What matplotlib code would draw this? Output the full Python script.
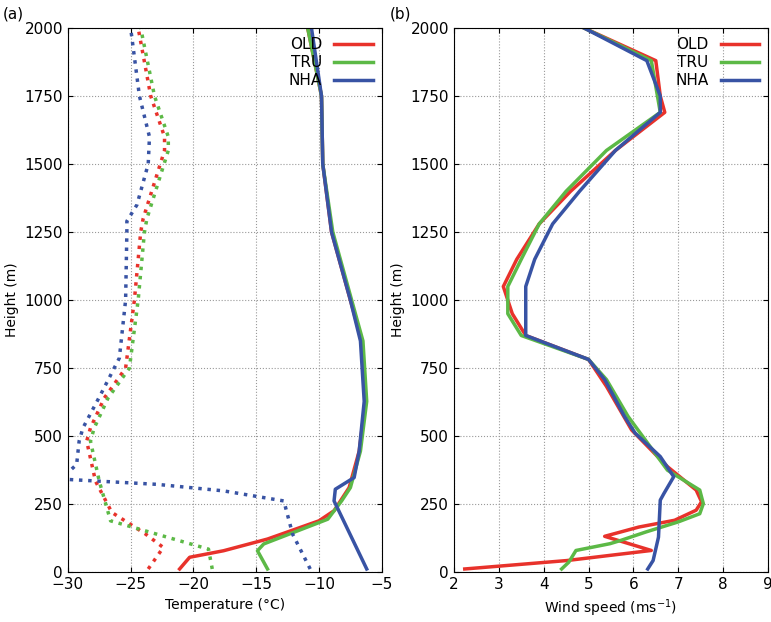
import matplotlib.pyplot as plt

# Temperature profiles (solid)
h_old_t = [12, 55, 79, 122, 189, 226, 311, 445, 628, 850, 1000, 1250, 1500, 1750, 2000]
t_old = [-21.1, -20.3, -17.6, -14.1, -10.0, -8.8, -7.6, -6.8, -6.3, -6.6, -7.5, -9.0, -9.7, -9.8, -10.9]
h_tru_t = [12, 79, 104, 195, 262, 311, 445, 628, 850, 1000, 1250, 1500, 1750, 2000]
t_tru = [-14.1, -14.9, -14.4, -9.3, -8.2, -7.5, -6.7, -6.2, -6.5, -7.4, -8.9, -9.7, -9.8, -10.9]
h_nha_t = [12, 262, 305, 348, 445, 628, 850, 1000, 1250, 1500, 1750, 2000]
t_nha = [-6.2, -8.8, -8.7, -7.2, -6.8, -6.4, -6.7, -7.5, -9.0, -9.7, -9.8, -10.6]

# dotted profiles
h_old_d = [12, 91, 140, 220, 335, 482, 530, 640, 750, 1000, 1250, 1300, 1550, 1600, 1750, 2000]
d_old = [-23.6, -22.4, -23.8, -26.5, -27.8, -28.5, -28.2, -27.1, -25.4, -24.7, -24.2, -24.0, -22.3, -22.3, -23.4, -24.4]
h_tru_d = [12, 85, 189, 335, 482, 530, 640, 750, 1000, 1250, 1300, 1550, 1600, 1750, 2000]
d_tru = [-18.5, -18.8, -26.6, -27.5, -28.2, -27.9, -26.8, -25.1, -24.4, -23.9, -23.7, -22.0, -22.0, -23.1, -24.2]
h_nha_d = [12, 140, 262, 299, 323, 341, 352, 366, 396, 482, 530, 652, 787, 1000, 1250, 1290, 1350, 1500, 1600, 1750, 2000]
d_nha = [-10.7, -12.1, -12.8, -17.6, -22.9, -30.0, -31.0, -30.0, -29.3, -29.1, -28.8, -27.4, -25.9, -25.4, -25.3, -25.3, -24.5, -23.6, -23.5, -24.3, -25.0]

# wind speed
h_old_w = [12, 43, 62, 80, 132, 166, 191, 228, 259, 302, 388, 523, 683, 782, 870, 950, 1050, 1150, 1280, 1400, 1550, 1690, 1750, 1880, 2000]
w_old = [2.24, 4.52, 5.48, 6.40, 5.36, 6.12, 6.92, 7.40, 7.52, 7.40, 6.76, 5.96, 5.40, 5.0, 3.6, 3.3, 3.1, 3.4, 3.9, 4.6, 5.6, 6.7, 6.6, 6.5, 4.9]
h_tru_w = [12, 37, 80, 105, 117, 148, 185, 215, 252, 302, 375, 573, 708, 782, 870, 950, 1050, 1150, 1280, 1400, 1550, 1690, 1880, 2000]
w_tru = [4.40, 4.56, 4.72, 5.48, 5.72, 6.28, 7.0, 7.48, 7.56, 7.48, 6.76, 5.88, 5.4, 5.0, 3.5, 3.2, 3.2, 3.5, 3.9, 4.5, 5.4, 6.6, 6.4, 4.9]
h_nha_w = [12, 43, 129, 265, 289, 351, 425, 511, 573, 647, 708, 782, 870, 950, 1050, 1150, 1280, 1400, 1550, 1690, 1750, 1880, 2000]
w_nha = [6.32, 6.44, 6.56, 6.6, 6.68, 6.9, 6.6, 6.04, 5.8, 5.56, 5.36, 5.0, 3.6, 3.6, 3.6, 3.8, 4.2, 4.8, 5.6, 6.6, 6.6, 6.3, 4.9]

red = '#e8322b'
green = '#5cb946'
blue = '#3853a4'

fig, (ax1, ax2) = plt.subplots(1, 2, figsize=(7.71, 6.22), dpi=100)
fig.subplots_adjust(left=0.088, right=0.996, bottom=0.08, top=0.955, wspace=0.23)

ax1.plot(t_old, h_old_t, color=red, lw=2.5, label='OLD')
ax1.plot(t_tru, h_tru_t, color=green, lw=2.5, label='TRU')
ax1.plot(t_nha, h_nha_t, color=blue, lw=2.5, label='NHA')
ax1.plot(d_old, h_old_d, color=red, lw=2.5, ls=':')
ax1.plot(d_tru, h_tru_d, color=green, lw=2.5, ls=':')
ax1.plot(d_nha, h_nha_d, color=blue, lw=2.5, ls=':')
ax1.set_xlim(-30, -5)
ax1.set_xticks([-30, -25, -20, -15, -10, -5])
ax1.set_xlabel('Temperature (°C)')

ax2.plot(w_old, h_old_w, color=red, lw=2.5, label='OLD')
ax2.plot(w_tru, h_tru_w, color=green, lw=2.5, label='TRU')
ax2.plot(w_nha, h_nha_w, color=blue, lw=2.5, label='NHA')
ax2.set_xlim(2, 9)
ax2.set_xticks(range(2, 10))
ax2.set_xlabel('Wind speed (ms$^{-1}$)')

for ax in [ax1, ax2]:
    ax.set_ylim(0, 2000)
    ax.set_yticks(range(0, 2001, 250))
    ax.set_ylabel('Height (m)')
    ax.grid(True, ls=':', color='#999999', lw=0.8)
    ax.tick_params(direction='in', top=True, right=True, labelsize=11)
    ax.legend(loc='upper right', frameon=False, fontsize=11, handlelength=2.5,
              markerfirst=False, borderaxespad=0.2, labelspacing=0.2)

fig.text(0.003, 0.99, '(a)', fontsize=11, va='top')
fig.text(0.505, 0.99, '(b)', fontsize=11, va='top')

plt.savefig('out.png')
